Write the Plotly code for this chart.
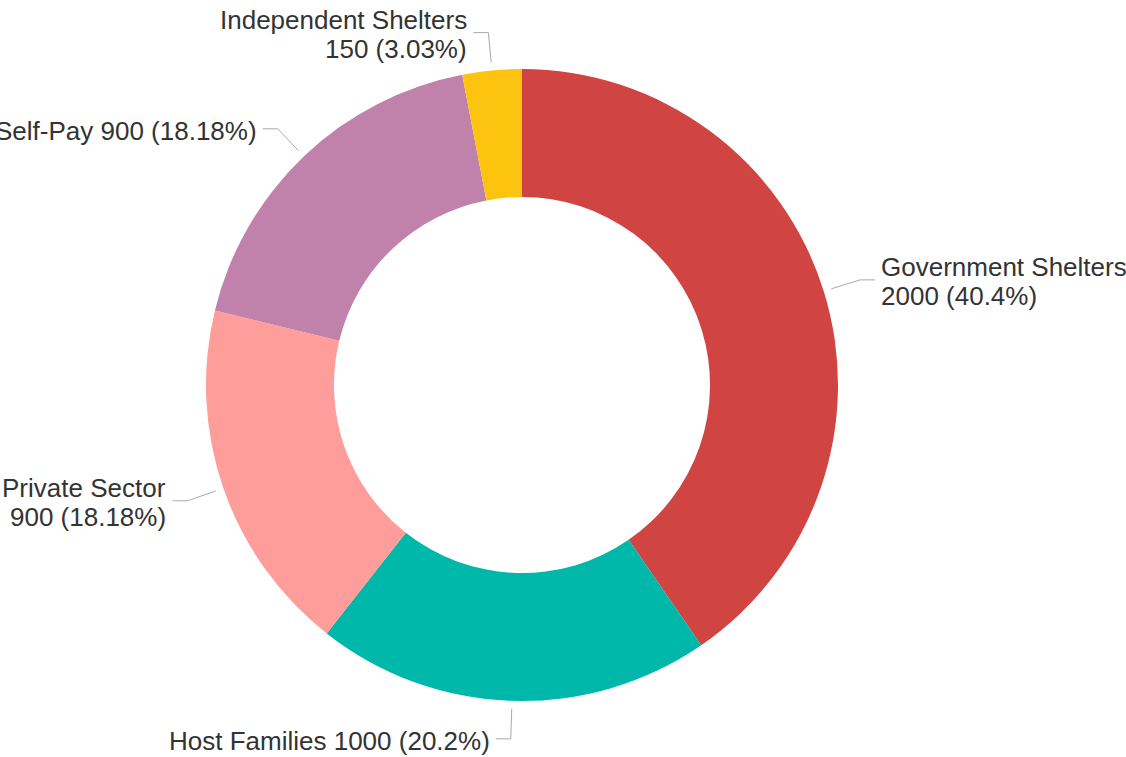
import math
import plotly.graph_objects as go

# ---- data ----
categories = ["Government Shelters", "Host Families", "Private Sector", "Self-Pay", "Independent Shelters"]
values = [2000, 1000, 900, 900, 150]
colors = ["#d04442", "#00b8aa", "#ff9d9a", "#c082aa", "#fcc40e"]
wrap_label = [True, False, True, False, True]

# ---- layout geometry (pixels) ----
W, H = 1126, 757
CX, CY, R = 522, 385, 316
HOLE = 0.595
R_START, R_BEND, H_LEN, GAP = 324, 354, 15, 5
FONT_SIZE = 26
LINE_STEP = 29
TEXT_DY = 2

def px_x(x):
    return x / W

def px_y(y):
    return 1 - y / H

fig = go.Figure(go.Pie(
    labels=categories,
    values=values,
    marker=dict(colors=colors, line=dict(width=0)),
    hole=HOLE,
    sort=False,
    direction="clockwise",
    rotation=0,
    textinfo="none",
    hoverinfo="label+value+percent",
    domain=dict(x=[px_x(CX - R), px_x(CX + R)], y=[px_y(CY + R), px_y(CY - R)]),
    showlegend=False,
))

total = sum(values)
shapes = []
annotations = []
cum = 0
for name, v, wrap in zip(categories, values, wrap_label):
    mid = (cum + v / 2) / total * 2 * math.pi
    cum += v
    dx, dy = math.sin(mid), -math.cos(mid)
    x0, y0 = CX + R_START * dx, CY + R_START * dy
    x1, y1 = CX + R_BEND * dx, CY + R_BEND * dy
    side = 1 if x1 >= CX else -1
    x2 = x1 + side * H_LEN
    for (a, b, c, d) in [(x0, y0, x1, y1), (x1, y1, x2, y1)]:
        shapes.append(dict(type="line", xref="paper", yref="paper",
                           x0=px_x(a), y0=px_y(b), x1=px_x(c), y1=px_y(d),
                           line=dict(color="#aaaaaa", width=1)))
    pct = round(v / total * 100, 2)
    pct_txt = ("%g" % pct) + "%"
    if wrap:
        lines = [name, f"{v} ({pct_txt})"]
    else:
        lines = [f"{name} {v} ({pct_txt})"]
    n = len(lines)
    for i, t in enumerate(lines):
        ty = y1 + TEXT_DY + (i - (n - 1) / 2) * LINE_STEP
        annotations.append(dict(
            text=t, xref="paper", yref="paper",
            x=px_x(x2 + side * GAP), y=px_y(ty),
            xanchor="left" if side > 0 else "right", yanchor="middle",
            showarrow=False, borderpad=0,
            font=dict(family="Liberation Sans, Arial, sans-serif", size=FONT_SIZE, color="#333333"),
        ))

fig.update_layout(
    width=W, height=H,
    margin=dict(l=0, r=0, t=0, b=0),
    paper_bgcolor="white",
    plot_bgcolor="white",
    shapes=shapes,
    annotations=annotations,
)

fig.write_html("out.html", config={"displayModeBar": False},
               post_script="document.body.style.margin='0';document.body.style.overflow='hidden';")
